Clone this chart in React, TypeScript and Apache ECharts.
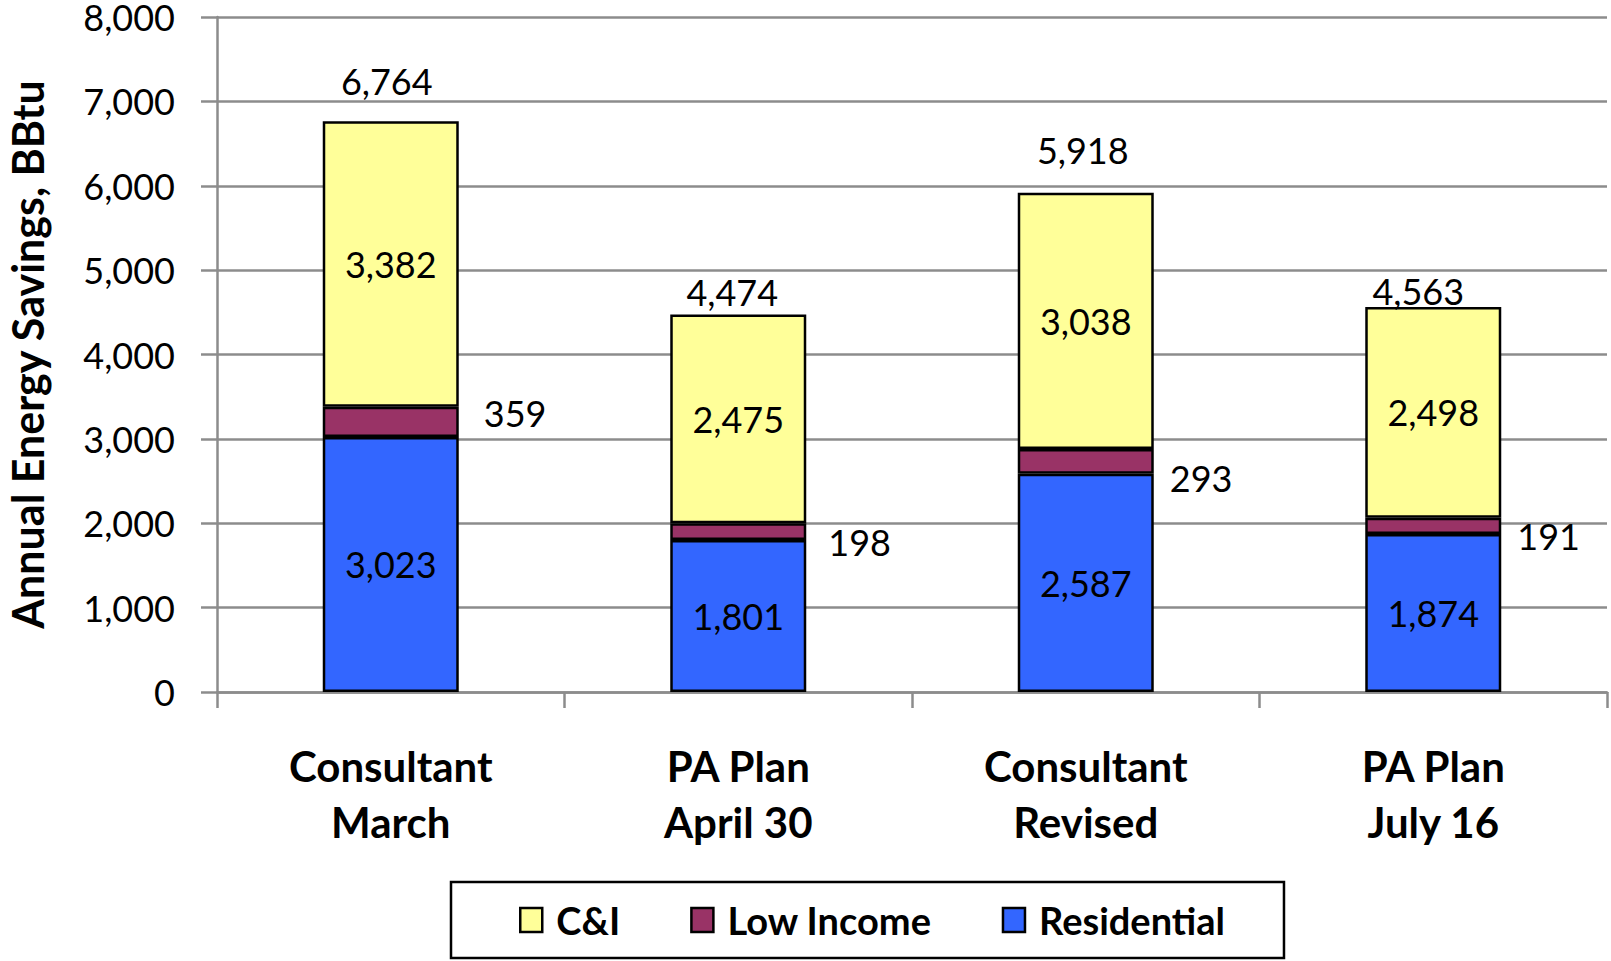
import React, { useEffect, useRef } from "react";
import * as echarts from "echarts";

const categories = ["Consultant\nMarch", "PA Plan\nApril 30", "Consultant\nRevised", "PA Plan\nJuly 16"];
const residential = [3023, 1801, 2587, 1874];
const lowIncome = [359, 198, 293, 191];
const cni = [3382, 2475, 3038, 2498];
const totals = [6764, 4474, 5918, 4563];
const yTicks = { min: 0, max: 8000, interval: 1000 };

// label styling tweaks (positions in px, not data)
const totalLabelOffsets = [[-4, -17], [-6, 0], [-3, -20], [-15, 7]];
const lowIncomeLabelOffsets = [[9, -9], [6, 10], [0, 17], [0, 10]];

const FONT = "Lato";
const fmt = (v: number) => v.toLocaleString("en-US");

export default function App() {
  const ref = useRef<HTMLDivElement>(null);
  useEffect(() => {
    if (!ref.current) return;
    const chart = echarts.init(ref.current, null, { renderer: "svg" });
    const labelBase = { fontFamily: FONT, fontSize: 36, color: "#000" };
    chart.setOption({
      animation: false,
      backgroundColor: "#fff",
      grid: { left: 217, right: 4, top: 17, bottom: 269, outerBoundsMode: "none", containLabel: false },
      legend: {
        data: ["C&I", "Low Income", "Residential"],
        left: 451,
        top: 882,
        orient: "horizontal",
        icon: "rect",
        itemWidth: 22,
        itemHeight: 24,
        itemGap: 70,
        padding: [19, 59, 19, 68],
        borderColor: "#000",
        borderWidth: 2.5,
        textStyle: { fontFamily: FONT, fontWeight: "bold", fontSize: 38, color: "#000", lineHeight: 38, padding: [0, 0, 0, 9] },
        itemStyle: { borderColor: "#000", borderWidth: 2.5 },
      },
      xAxis: {
        type: "category",
        data: categories,
        axisLine: { lineStyle: { color: "#8c8c8c", width: 2.5 } },
        axisTick: { show: true, length: 16, lineStyle: { color: "#8c8c8c", width: 2.5 } },
        axisLabel: { fontFamily: FONT, fontWeight: "bold", fontSize: 42, color: "#000", lineHeight: 56, margin: 46, interval: 0 },
      },
      yAxis: {
        type: "value",
        min: yTicks.min,
        max: yTicks.max,
        interval: yTicks.interval,
        name: "Annual Energy Savings, BBtu",
        nameLocation: "middle",
        nameGap: 168,
        nameTextStyle: { fontFamily: FONT, fontWeight: "bold", fontSize: 43, color: "#000" },
        axisLine: { show: true, lineStyle: { color: "#8c8c8c", width: 2.5 } },
        axisTick: { show: true, length: 16, lineStyle: { color: "#8c8c8c", width: 2.5 } },
        splitLine: { lineStyle: { color: "#8c8c8c", width: 2.5 } },
        axisLabel: { ...labelBase, lineHeight: 30, margin: 42, formatter: (v: number) => fmt(v) },
      },
      series: [
        {
          name: "Residential",
          type: "bar",
          stack: "total",
          barWidth: 136,
          data: residential,
          itemStyle: { color: "#3366FF", borderColor: "#000", borderWidth: 2.5 },
          label: { show: true, position: "inside", ...labelBase, formatter: (p: any) => fmt(p.value) },
        },
        {
          name: "Low Income",
          type: "bar",
          stack: "total",
          barWidth: 136,
          data: lowIncome.map((v, i) => ({
            value: v,
            label: { offset: lowIncomeLabelOffsets[i] },
          })),
          itemStyle: { color: "#993366", borderColor: "#000", borderWidth: 2.5 },
          label: { show: true, position: "right", distance: 16, ...labelBase, formatter: (p: any) => fmt(p.value) },
        },
        {
          name: "C&I",
          type: "bar",
          stack: "total",
          barWidth: 136,
          data: cni,
          itemStyle: { color: "#FFFF99", borderColor: "#000", borderWidth: 2.5 },
          label: { show: true, position: "inside", ...labelBase, formatter: (p: any) => fmt(p.value) },
        },
        {
          name: "Total",
          type: "scatter",
          symbolSize: 0,
          silent: true,
          itemStyle: { opacity: 1, color: "#000" },
          data: totals.map((v, i) => ({
            value: v,
            label: { offset: totalLabelOffsets[i] },
          })),
          label: { show: true, position: "top", distance: 5, opacity: 1, ...labelBase, formatter: (p: any) => fmt(p.value) },
        },
      ],
    });
    return () => chart.dispose();
  }, []);
  return <div ref={ref} style={{ width: 1611, height: 961, position: "absolute", left: 0, top: 0 }} />;
}
